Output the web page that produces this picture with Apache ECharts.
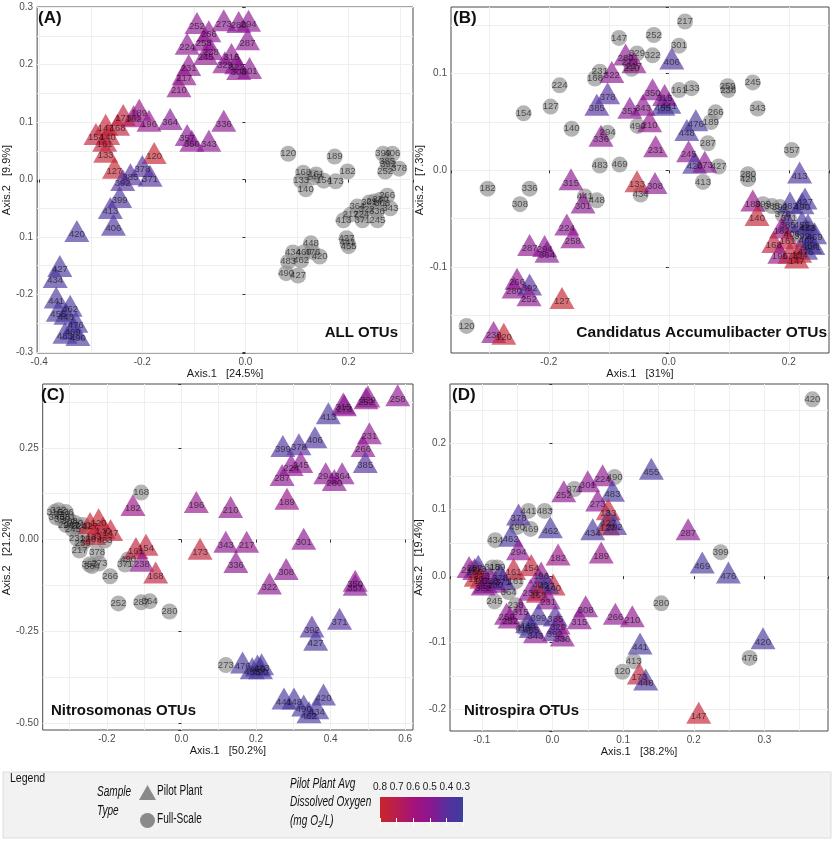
<!DOCTYPE html>
<html>
<head>
<meta charset="utf-8">
<script src="https://cdn.jsdelivr.net/npm/echarts@6/dist/echarts.min.js"></script>
<style>
html, body { margin: 0; padding: 0; background: #fff; }
#main { width: 835px; height: 841px; }
</style>
</head>
<body>
<div id="main"></div>
<script>
// pilot plant avg DO per sample day
var doDays = [120, 127, 133, 140, 147, 154, 161, 168, 173, 182, 189, 196, 210, 217, 224, 231, 238, 245, 252, 258, 259, 266, 273, 280, 287, 294, 301, 308, 315, 322, 329, 336, 343, 350, 357, 364, 371, 378, 385, 392, 399, 406, 413, 420, 427, 434, 441, 448, 455, 462, 469, 476, 483, 490];
var doVals = [0.78, 0.78, 0.77, 0.76, 0.77, 0.75, 0.75, 0.74, 0.74, 0.55, 0.54, 0.53, 0.52, 0.52, 0.51, 0.51, 0.51, 0.51, 0.51, 0.51, 0.51, 0.51, 0.5, 0.5, 0.5, 0.5, 0.5, 0.5, 0.5, 0.5, 0.5, 0.5, 0.5, 0.5, 0.49, 0.49, 0.38, 0.38, 0.38, 0.38, 0.36, 0.36, 0.36, 0.35, 0.35, 0.35, 0.35, 0.35, 0.34, 0.34, 0.34, 0.34, 0.34, 0.34];

// (A) ALL OTUs  [x, y, sample]
var pilotA = [
  [-0.094, 0.266, '252'], [-0.071, 0.252, '266'], [-0.042, 0.271, '273'], [-0.013, 0.268, '280'],
  [0.006, 0.270, '294'], [0.004, 0.238, '287'], [-0.113, 0.230, '224'], [-0.081, 0.237, '258'],
  [-0.067, 0.221, '238'], [-0.077, 0.212, '245'], [-0.110, 0.193, '231'], [-0.119, 0.177, '217'],
  [-0.129, 0.156, '210'], [-0.027, 0.212, '315'], [-0.040, 0.198, '329'], [-0.017, 0.196, '322'],
  [-0.013, 0.186, '308'], [0.008, 0.188, '301'], [-0.042, 0.096, '336'], [-0.113, 0.071, '357'],
  [-0.104, 0.061, '350'], [-0.071, 0.061, '343'], [-0.146, 0.099, '364'], [-0.206, 0.115, '189'],
  [-0.187, 0.096, '196'], [-0.217, 0.104, '182'], [-0.237, 0.106, '173'], [-0.248, 0.089, '168'],
  [-0.271, 0.089, '147'], [-0.290, 0.073, '154'], [-0.267, 0.073, '140'], [-0.273, 0.061, '161'],
  [-0.271, 0.042, '133'], [-0.254, 0.014, '127'], [-0.177, 0.040, '120'], [-0.200, 0.017, '378'],
  [-0.223, 0.003, '385'], [-0.185, 0.000, '371'], [-0.238, -0.007, '392'], [-0.244, -0.037, '399'],
  [-0.262, -0.056, '413'], [-0.256, -0.085, '406'], [-0.327, -0.096, '420'], [-0.360, -0.157, '427'],
  [-0.369, -0.176, '434'], [-0.367, -0.212, '441'], [-0.340, -0.226, '462'], [-0.363, -0.235, '455'],
  [-0.348, -0.240, '448'], [-0.329, -0.254, '476'], [-0.335, -0.266, '469'], [-0.350, -0.273, '483'],
  [-0.325, -0.277, '490']
];
var fullA = [
  [0.083, 0.045, '120'], [0.173, 0.040, '189'], [0.198, 0.014, '182'], [0.112, 0.012, '168'],
  [0.137, 0.009, '161'], [0.133, 0.004, '147'], [0.152, -0.002, '154'], [0.175, -0.003, '173'],
  [0.108, -0.002, '133'], [0.117, -0.017, '140'], [0.267, 0.045, '399'], [0.285, 0.045, '406'],
  [0.275, 0.031, '385'], [0.277, 0.026, '392'], [0.298, 0.019, '378'], [0.271, 0.014, '252'],
  [0.275, -0.028, '266'], [0.262, -0.035, '280'], [0.250, -0.038, '294'], [0.240, -0.040, '301'],
  [0.265, -0.042, '308'], [0.281, -0.050, '343'], [0.217, -0.047, '364'], [0.235, -0.052, '322'],
  [0.255, -0.055, '336'], [0.204, -0.061, '217'], [0.225, -0.060, '224'], [0.190, -0.071, '413'],
  [0.227, -0.071, '371'], [0.256, -0.071, '245'], [0.196, -0.102, '427'], [0.198, -0.110, '441'],
  [0.200, -0.116, '455'], [0.127, -0.111, '448'], [0.092, -0.127, '434'], [0.113, -0.127, '469'],
  [0.130, -0.126, '476'], [0.144, -0.134, '420'], [0.083, -0.143, '483'], [0.108, -0.141, '462'],
  [0.079, -0.163, '490'], [0.102, -0.167, '427']
];

// (B) Candidatus Accumulibacter OTUs
var pilotB = [
  [-0.095, 0.098, '322'], [-0.102, 0.076, '378'], [-0.120, 0.064, '385'], [-0.113, 0.032, '336'],
  [-0.163, -0.013, '315'], [-0.143, -0.037, '301'], [-0.170, -0.060, '224'], [-0.160, -0.073, '258'],
  [-0.232, -0.081, '287'], [-0.207, -0.082, '294'], [-0.203, -0.088, '364'], [-0.253, -0.116, '266'],
  [-0.258, -0.125, '280'], [-0.232, -0.122, '392'], [-0.233, -0.133, '252'], [-0.178, -0.136, '127'],
  [-0.292, -0.171, '238'], [-0.275, -0.173, '120'], [-0.053, -0.015, '133'], [-0.023, -0.017, '308'],
  [-0.072, 0.116, '280'], [-0.058, 0.108, '217'], [-0.027, 0.080, '350'], [0.000, 0.066, '441'],
  [-0.010, 0.064, '455'], [-0.007, 0.074, '315'], [-0.065, 0.061, '357'], [-0.043, 0.064, '343'],
  [-0.032, 0.047, '210'], [-0.022, 0.021, '231'], [0.005, 0.112, '406'], [0.045, 0.048, '476'],
  [0.030, 0.038, '448'], [0.033, 0.016, '245'], [0.043, 0.004, '420'], [0.060, 0.005, '273'],
  [0.218, -0.006, '413'], [0.140, -0.035, '189'], [0.147, -0.050, '140'], [0.227, -0.033, '427'],
  [0.222, -0.038, '490'], [0.202, -0.037, '483'], [0.198, -0.057, '385'], [0.222, -0.057, '455'],
  [0.188, -0.063, '182'], [0.198, -0.074, '161'], [0.175, -0.078, '168'], [0.243, -0.069, '469'],
  [0.235, -0.079, '434'], [0.240, -0.080, '441'], [0.230, -0.072, '462'], [0.228, -0.085, '476'],
  [0.232, -0.060, '448'], [0.185, -0.089, '196'], [0.202, -0.089, '173'], [0.218, -0.088, '154'],
  [0.213, -0.094, '147']
];
var fullB = [
  [0.027, 0.154, '217'], [-0.025, 0.140, '252'], [-0.083, 0.137, '147'], [0.017, 0.129, '301'],
  [-0.053, 0.121, '329'], [-0.027, 0.119, '322'], [-0.065, 0.112, '273'], [-0.062, 0.105, '210'],
  [-0.115, 0.102, '231'], [-0.123, 0.095, '168'], [-0.182, 0.088, '224'], [-0.197, 0.066, '127'],
  [-0.242, 0.059, '154'], [-0.162, 0.043, '140'], [-0.102, 0.039, '294'], [-0.052, 0.046, '490'],
  [-0.115, 0.005, '483'], [-0.082, 0.006, '469'], [0.017, 0.083, '161'], [0.038, 0.085, '133'],
  [0.098, 0.087, '259'], [0.099, 0.083, '238'], [0.140, 0.091, '245'], [0.148, 0.064, '343'],
  [0.078, 0.060, '266'], [0.070, 0.050, '189'], [0.065, 0.028, '287'], [0.083, 0.004, '427'],
  [0.057, -0.012, '413'], [0.205, 0.021, '357'], [0.132, -0.004, '280'], [0.132, -0.009, '420'],
  [-0.302, -0.019, '182'], [-0.232, -0.019, '336'], [-0.248, -0.035, '308'], [-0.140, -0.027, '441'],
  [-0.120, -0.031, '448'], [-0.337, -0.161, '120'], [-0.047, -0.025, '434'], [0.157, -0.035, '399'],
  [0.172, -0.037, '385'], [0.185, -0.038, '392'], [0.190, -0.046, '378'], [0.200, -0.050, '371'],
  [0.222, -0.068, '399'], [0.205, -0.066, '406'], [0.230, -0.060, '413']
];

// (C) Nitrosomonas OTUs
var pilotC = [
  [0.580, 0.383, '258'], [0.500, 0.380, '329'], [0.495, 0.375, '252'], [0.434, 0.361, '315'],
  [0.437, 0.356, '273'], [0.394, 0.334, '413'], [0.504, 0.280, '231'], [0.358, 0.269, '406'],
  [0.487, 0.245, '266'], [0.272, 0.245, '399'], [0.315, 0.250, '378'], [0.493, 0.201, '385'],
  [0.320, 0.201, '245'], [0.294, 0.193, '224'], [0.387, 0.171, '294'], [0.431, 0.171, '364'],
  [0.410, 0.152, '280'], [0.270, 0.166, '287'], [0.283, 0.101, '189'], [0.040, 0.092, '196'],
  [0.132, 0.079, '210'], [-0.130, 0.084, '182'], [0.119, -0.016, '343'], [0.175, -0.016, '217'],
  [0.328, -0.008, '301'], [0.050, -0.035, '173'], [0.146, -0.071, '336'], [0.281, -0.090, '308'],
  [0.236, -0.130, '322'], [0.466, -0.122, '350'], [0.466, -0.133, '357'], [0.424, -0.226, '371'],
  [0.350, -0.247, '392'], [0.360, -0.283, '427'], [0.164, -0.345, '476'], [0.204, -0.353, '469'],
  [0.212, -0.361, '490'], [0.190, -0.361, '455'], [0.215, -0.350, '483'], [0.381, -0.432, '420'],
  [0.275, -0.443, '441'], [0.302, -0.443, '448'], [0.328, -0.462, '490'], [0.342, -0.481, '462'],
  [0.363, -0.470, '434'], [-0.095, -0.024, '154'], [-0.122, -0.033, '161'], [-0.106, -0.068, '238'],
  [-0.069, -0.100, '168'], [-0.190, 0.016, '147'], [-0.222, 0.045, '120'], [-0.245, 0.035, '127'],
  [-0.235, 0.005, '133'], [-0.210, 0.022, '140']
];
var fullC = [
  [-0.108, 0.128, '168'], [-0.340, 0.075, '315'], [-0.330, 0.080, '322'], [-0.320, 0.070, '329'],
  [-0.310, 0.075, '336'], [-0.335, 0.060, '343'], [-0.320, 0.055, '350'], [-0.305, 0.060, '301'],
  [-0.300, 0.050, '308'], [-0.310, 0.040, '294'], [-0.295, 0.038, '287'], [-0.285, 0.045, '280'],
  [-0.275, 0.035, '224'], [-0.265, 0.040, '210'], [-0.291, 0.027, '245'], [-0.280, 0.003, '231'],
  [-0.273, -0.030, '217'], [-0.226, -0.035, '378'], [-0.246, -0.068, '357'], [-0.240, -0.072, '364'],
  [-0.220, -0.065, '273'], [-0.151, -0.068, '371'], [-0.143, -0.054, '490'], [-0.191, -0.100, '266'],
  [-0.169, -0.174, '252'], [-0.108, -0.171, '287'], [-0.085, -0.168, '364'], [-0.032, -0.196, '280'],
  [0.119, -0.342, '273'], [-0.206, -0.003, '483'], [-0.250, 0.000, '238'], [-0.265, -0.010, '259']
];

// (D) Nitrospira OTUs
var pilotD = [
  [0.140, 0.156, '455'], [0.071, 0.146, '224'], [0.050, 0.137, '301'], [0.016, 0.122, '252'],
  [0.085, 0.123, '483'], [0.064, 0.108, '273'], [0.079, 0.095, '133'], [0.079, 0.080, '427'],
  [0.078, 0.072, '127'], [0.088, 0.073, '392'], [0.057, 0.065, '434'], [-0.003, 0.068, '462'],
  [-0.059, 0.055, '462'], [-0.048, 0.087, '378'], [0.192, 0.065, '287'], [0.069, 0.030, '189'],
  [0.008, 0.027, '182'], [0.212, 0.015, '469'], [0.249, 0.000, '476'], [-0.048, 0.035, '294'],
  [-0.030, 0.011, '154'], [-0.016, 0.000, '196'], [-0.055, 0.005, '161'], [0.001, -0.018, '140'],
  [-0.017, -0.014, '406'], [-0.008, -0.016, '427'], [-0.031, -0.026, '238'], [-0.020, -0.029, '168'],
  [-0.006, -0.039, '231'], [0.047, -0.051, '308'], [0.038, -0.069, '315'], [0.089, -0.062, '266'],
  [0.113, -0.066, '210'], [0.004, -0.065, '385'], [0.008, -0.077, '329'], [0.003, -0.087, '392'],
  [0.014, -0.095, '336'], [-0.024, -0.090, '343'], [-0.020, -0.063, '399'], [0.124, -0.107, '441'],
  [0.123, -0.152, '173'], [0.132, -0.161, '448'], [0.207, -0.211, '147'], [0.298, -0.099, '420'],
  [-0.118, 0.008, '217'], [-0.110, 0.005, '266'], [-0.105, 0.010, '413'], [-0.108, -0.005, '120'],
  [-0.100, -0.008, '147'], [-0.095, -0.015, '357'], [-0.098, -0.018, '322'], [-0.081, -0.014, '280'],
  [-0.088, -0.008, '350'], [-0.070, -0.010, '371'], [-0.074, -0.003, '378'], [-0.045, -0.055, '315'],
  [-0.065, -0.062, '259'], [-0.060, -0.068, '252'], [-0.035, -0.075, '448'], [-0.030, -0.082, '455']
];
var fullD = [
  [0.368, 0.266, '420'], [0.088, 0.149, '490'], [0.031, 0.131, '371'], [-0.034, 0.098, '441'],
  [-0.011, 0.098, '483'], [-0.050, 0.074, '490'], [-0.031, 0.071, '469'], [-0.081, 0.054, '434'],
  [0.238, 0.036, '399'], [0.154, -0.041, '280'], [0.115, -0.128, '413'], [0.099, -0.144, '120'],
  [0.279, -0.123, '476'], [-0.082, -0.038, '245'], [-0.062, -0.024, '364'], [-0.085, 0.013, '315'],
  [-0.078, 0.013, '189'], [-0.052, -0.044, '238'], [-0.052, -0.008, '161'], [-0.041, -0.078, '413'],
  [-0.110, 0.012, '287'], [-0.100, 0.000, '273']
];

// tick labels
var xTickA = [-0.4, -0.2, 0, 0.2], xLabA = ['-0.4', '-0.2', '0.0', '0.2'];
var yTickA = [-0.3, -0.2, -0.1, 0, 0.1, 0.2, 0.3], yLabA = ['-0.3', '-0.2', '0.1', '0.0', '0.1', '0.2', '0.3'];
var xTickB = [-0.2, 0, 0.2], xLabB = ['-0.2', '0.0', '0.2'];
var yTickB = [-0.1, 0, 0.1], yLabB = ['-0.1', '0.0', '0.1'];
var xTickC = [-0.2, 0, 0.2, 0.4, 0.6], xLabC = ['-0.2', '0.0', '0.2', '0.4', '0.6'];
var yTickC = [-0.5, -0.25, 0, 0.25], yLabC = ['-0.50', '-0.25', '0.00', '0.25'];
var xTickD = [-0.1, 0, 0.1, 0.2, 0.3], xLabD = ['-0.1', '0.0', '0.1', '0.2', '0.3'];
var yTickD = [-0.2, -0.1, 0, 0.1, 0.2], yLabD = ['-0.2', '-0.1', '0.0', '0.1', '0.2'];

var doTicks = [0.3, 0.8];

var FONT = '"Liberation Sans", Arial, sans-serif';
// colours at DO 0.3, 0.4, 0.5, 0.6, 0.7, 0.8
var doColors = ['#3c3e9e', '#5a2e9c', '#8c1690', '#a5127a', '#b91e4e', '#c7262a'];

var panels = [
  { pilot: pilotA, full: fullA, xt: xTickA, xl: xLabA, yt: yTickA, yl: yLabA, xName: 'Axis.1   [24.5%]', yName: 'Axis.2   [9.9%]',
    box: { left: 35, top: 7, width: 378, height: 346 }, xr: [-0.404, 0.325], yr: [-0.302, 0.3005], xs: [0.2, 0.1], ys: [0.1, 0.05], yGap: 20 },
  { pilot: pilotB, full: fullB, xt: xTickB, xl: xLabB, yt: yTickB, yl: yLabB, xName: 'Axis.1   [31%]', yName: 'Axis.2   [7.3%]',
    box: { left: 451, top: 7, width: 378, height: 346 }, xr: [-0.363, 0.267], yr: [-0.189, 0.169], xs: [0.2, 0.1], ys: [0.1, 0.05], yGap: 17 },
  { pilot: pilotC, full: fullC, xt: xTickC, xl: xLabC, yt: yTickC, yl: yLabC, xName: 'Axis.1   [50.2%]', yName: 'Axis.2   [21.2%]',
    box: { left: 38, top: 384, width: 375, height: 346 }, xr: [-0.372, 0.621], yr: [-0.519, 0.424], xs: [0.2, 0.1], ys: [0.25, 0.125], yGap: 22 },
  { pilot: pilotD, full: fullD, xt: xTickD, xl: xLabD, yt: yTickD, yl: yLabD, xName: 'Axis.1   [38.2%]', yName: 'Axis.2   [19.4%]',
    box: { left: 450, top: 384, width: 378, height: 347 }, xr: [-0.145, 0.39], yr: [-0.233, 0.289], xs: [0.1, 0.05], ys: [0.1, 0.05], yGap: 19 }
];

function doOf(lab) {
  var i = doDays.indexOf(+lab);
  return i < 0 ? 0.45 : doVals[i];
}

function tickFmt(vals, labs) {
  return function(v) {
    for (var i = 0; i < vals.length; i++) {
      if (Math.abs(v - vals[i]) < 1e-6) return labs[i];
    }
    return '';
  };
}

function majorAxis(gi, range, step, vals, labs, name, gap, pos) {
  return {
    type: 'value', gridIndex: gi, position: pos, min: range[0], max: range[1],
    minInterval: step, maxInterval: step,
    name: name, nameLocation: 'middle', nameGap: gap,
    nameTextStyle: { fontSize: 11, color: '#1a1a1a', fontFamily: FONT },
    axisLine: { show: false },
    axisTick: { show: true, length: 3, lineStyle: { color: '#333' } },
    axisLabel: { show: true, fontSize: 10, color: '#4d4d4d', fontFamily: FONT, margin: 4,
      showMinLabel: true, showMaxLabel: true, formatter: tickFmt(vals, labs) },
    splitLine: { show: true, showMinLine: false, showMaxLine: false, lineStyle: { color: '#e4e4e4', width: 1 } }
  };
}

function minorAxis(gi, range, step, pos) {
  return {
    type: 'value', gridIndex: gi, position: pos, min: range[0], max: range[1],
    minInterval: step, maxInterval: step,
    axisLine: { show: false }, axisTick: { show: false }, axisLabel: { show: false },
    splitLine: { show: true, showMinLine: false, showMaxLine: false, lineStyle: { color: '#efefef', width: 1 } }
  };
}

var chart = echarts.init(document.getElementById('main'));

var option = {
  animation: false,
  backgroundColor: '#ffffff',
  grid: [], xAxis: [], yAxis: [], series: [], graphic: []
};

var pilotIdx = [];
panels.forEach(function(p, gi) {
  option.grid.push({ left: p.box.left, top: p.box.top, width: p.box.width, height: p.box.height,
    show: true, borderColor: '#4a4a4a', borderWidth: 1, backgroundColor: 'transparent' });
  var xi = option.xAxis.length, yi = option.yAxis.length;
  option.xAxis.push(majorAxis(gi, p.xr, p.xs[0], p.xt, p.xl, p.xName, 15, 'bottom'));
  option.xAxis.push(minorAxis(gi, p.xr, p.xs[1], 'top'));
  option.yAxis.push(majorAxis(gi, p.yr, p.ys[0], p.yt, p.yl, p.yName, p.yGap, 'left'));
  option.yAxis.push(minorAxis(gi, p.yr, p.ys[1], 'right'));

  option.series.push({
    name: 'Full-Scale', type: 'scatter', xAxisIndex: xi, yAxisIndex: yi,
    symbol: 'circle', symbolSize: 16, silent: true,
    itemStyle: { color: '#8c8c8c', opacity: 0.65 },
    label: { show: true, position: 'inside', formatter: '{b}', fontSize: 9.5, color: '#111', fontFamily: FONT },
    emphasis: { disabled: true },
    data: p.full.map(function(d) { return { name: d[2], value: [d[0], d[1]] }; })
  });
  pilotIdx.push(option.series.length);
  option.series.push({
    name: 'Pilot Plant', type: 'scatter', xAxisIndex: xi, yAxisIndex: yi,
    symbol: 'triangle', symbolSize: [25, 22], symbolOffset: [0, -3.7], silent: true,
    itemStyle: { opacity: 0.66 },
    label: { show: true, position: 'inside', offset: [0, 3.7], formatter: '{b}', fontSize: 9.5, color: '#111', fontFamily: FONT },
    emphasis: { disabled: true },
    data: p.pilot.map(function(d) { return { name: d[2], value: [d[0], d[1], doOf(d[2])] }; })
  });
});

// colour bar for DO
var cbGrid = option.grid.length;
option.grid.push({ left: 380, top: 797, width: 83, height: 25, show: true, borderWidth: 0, z: 3,
  backgroundColor: { type: 'linear', x: 0, y: 0, x2: 1, y2: 0, colorStops: [
    { offset: 0, color: doColors[5] }, { offset: 0.2, color: doColors[4] }, { offset: 0.4, color: doColors[3] },
    { offset: 0.6, color: doColors[2] }, { offset: 0.8, color: doColors[1] }, { offset: 1, color: doColors[0] } ] } });
option.xAxis.push({ type: 'value', gridIndex: cbGrid, position: 'top', inverse: true, min: doTicks[0], max: doTicks[1], interval: 0.1, z: 4,
  axisLine: { show: false }, splitLine: { show: false },
  axisTick: { show: true, inside: true, length: 4, lineStyle: { color: '#fff' } },
  axisLabel: { show: true, fontSize: 10, color: '#222', fontFamily: FONT, margin: 5, formatter: function(v) { return v.toFixed(1); } } });
option.xAxis.push({ type: 'value', gridIndex: cbGrid, position: 'bottom', inverse: true, min: doTicks[0], max: doTicks[1], interval: 0.1, z: 4,
  axisLine: { show: false }, splitLine: { show: false }, axisLabel: { show: false },
  axisTick: { show: true, inside: true, length: 4, lineStyle: { color: '#fff' } } });
option.yAxis.push({ type: 'value', gridIndex: cbGrid, show: false, min: 0, max: 1 });

option.visualMap = [{
  type: 'continuous', show: false, min: doTicks[0], max: doTicks[1], dimension: 2,
  seriesIndex: pilotIdx, inRange: { color: doColors }
}];

// sample-type keys (text drawn below as condensed graphic text)
option.legend = {
  orient: 'vertical', left: 134, top: 780, itemWidth: 17, itemHeight: 15, itemGap: 13,
  selectedMode: false,
  formatter: function() { return ''; },
  data: [
    { name: 'Pilot Plant', icon: 'triangle', itemStyle: { color: '#8a8a8a', opacity: 1 } },
    { name: 'Full-Scale', icon: 'circle', itemStyle: { color: '#8a8a8a', opacity: 1 } }
  ]
};

function txt(pos, text, size, weight, style, sx) {
  var el = { type: 'text', z: 10, silent: true, scaleX: sx || 1,
    style: { text: text, fontSize: size, fontWeight: weight || 'normal', fontStyle: style || 'normal',
      fontFamily: FONT, fill: '#111', verticalAlign: 'top', textVerticalAlign: 'top' } };
  for (var k in pos) el[k] = pos[k];
  return el;
}

option.graphic = [
  { type: 'rect', z: -1, silent: true, shape: { x: 3, y: 772, width: 828, height: 66 },
    style: { fill: '#f2f2f2', stroke: '#dcdcdc', lineWidth: 1 } },
  txt({ left: 38, top: 10 }, '(A)', 17, 'bold'),
  txt({ left: 453, top: 10 }, '(B)', 17, 'bold'),
  txt({ left: 41, top: 387 }, '(C)', 17, 'bold'),
  txt({ left: 452, top: 387 }, '(D)', 17, 'bold'),
  txt({ right: 437, top: 325 }, 'ALL OTUs', 15, 'bold'),
  txt({ right: 8, top: 325 }, 'Candidatus Accumulibacter OTUs', 15.5, 'bold'),
  txt({ left: 51, top: 703 }, 'Nitrosomonas OTUs', 15, 'bold'),
  txt({ left: 464, top: 703 }, 'Nitrospira OTUs', 15, 'bold'),
  txt({ x: 10, y: 771 }, 'Legend', 13.5, 'normal', 'normal', 0.78),
  txt({ x: 97, y: 785 }, 'Sample', 14, 'normal', 'italic', 0.72),
  txt({ x: 97, y: 804 }, 'Type', 14, 'normal', 'italic', 0.72),
  txt({ x: 157, y: 784 }, 'Pilot Plant', 14, 'normal', 'normal', 0.72),
  txt({ x: 157, y: 812 }, 'Full-Scale', 14, 'normal', 'normal', 0.72),
  txt({ x: 290, y: 777 }, 'Pilot Plant Avg', 14, 'normal', 'italic', 0.72),
  txt({ x: 290, y: 795 }, 'Dissolved Oxygen', 14, 'normal', 'italic', 0.72),
  txt({ x: 290, y: 814 }, '(mg O\u2082/L)', 14, 'normal', 'italic', 0.72)
];

chart.setOption(option);
</script>
</body>
</html>
